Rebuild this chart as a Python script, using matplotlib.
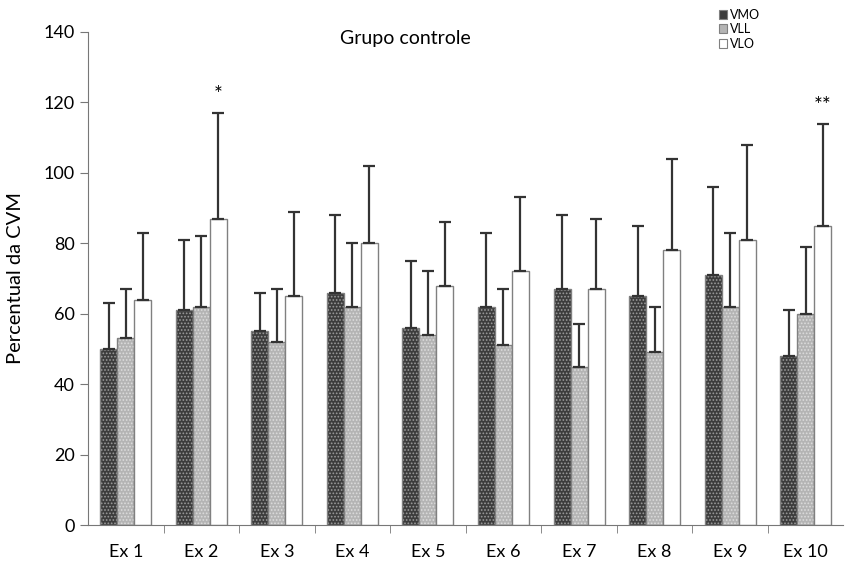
import numpy as np
import matplotlib.pyplot as plt
import matplotlib.patches as mpatches

plt.rcParams['font.family'] = ['Lato', 'DejaVu Sans']
plt.rcParams['hatch.linewidth'] = 0.8

# data
exercicios = ['Ex 1', 'Ex 2', 'Ex 3', 'Ex 4', 'Ex 5', 'Ex 6', 'Ex 7', 'Ex 8', 'Ex 9', 'Ex 10']
vmo = [50, 61, 55, 66, 56, 62, 67, 65, 71, 48]
vll = [53, 62, 52, 62, 54, 51, 45, 49, 62, 60]
vlo = [64, 87, 65, 80, 68, 72, 67, 78, 81, 85]
vmo_sd = [13, 20, 11, 22, 19, 21, 21, 20, 25, 13]
vll_sd = [14, 20, 15, 18, 18, 16, 12, 13, 21, 19]
vlo_sd = [19, 30, 24, 22, 18, 21, 20, 26, 27, 29]
marcas = {1: '*', 9: '**'}

fig = plt.figure(figsize=(8.46, 5.68), dpi=100)
ax = fig.add_axes([0.104, 0.0757, 0.893, 0.868])

x = np.arange(len(exercicios))
w = 0.225
series = [
    (vmo, vmo_sd, -w, '#3c3c3c', '#9a9a9a', '.....', 'VMO'),
    (vll, vll_sd, 0, '#b4b4b4', '#dcdcdc', '.....', 'VLL'),
    (vlo, vlo_sd, w, 'white', 'white', None, 'VLO'),
]
handles = []
for vals, sd, off, fc, hc, hatch, lab in series:
    ax.bar(x + off, vals, w, color=fc, edgecolor=hc, hatch=hatch, linewidth=0)
    ax.bar(x + off, vals, w, facecolor='none', edgecolor='#808080', linewidth=1.0)
    ax.errorbar(x + off, vals, yerr=[np.zeros(len(vals)), sd], fmt='none',
                ecolor='#333333', elinewidth=1.6, capsize=4, capthick=1.6)
    handles.append(mpatches.Patch(facecolor=fc, edgecolor='#808080', linewidth=0.8, label=lab))

for i, m in marcas.items():
    ax.text(x[i] + w, vlo[i] + vlo_sd[i] + 5, m, ha='center', va='center', fontsize=15)

ax.set_xlim(-0.5, 9.5)
ax.set_ylim(0, 140)
ax.set_yticks(range(0, 141, 20))
ax.set_xticks(x)
ax.set_xticklabels(exercicios)
ax.set_xticks(np.arange(0.5, 9.5, 1), minor=True)
ax.tick_params(axis='x', which='major', length=0, pad=14, labelsize=13)
ax.tick_params(axis='x', which='minor', length=6, direction='out', color='#777777')
ax.tick_params(axis='y', length=6, direction='out', color='#777777', labelsize=13)
for s in ['top', 'right']:
    ax.spines[s].set_visible(False)
for s in ['left', 'bottom']:
    ax.spines[s].set_color('#777777')
ax.set_ylabel('Percentual da CVM', fontsize=14.5, labelpad=14)
ax.text(0.42, 1.005, 'Grupo controle', transform=ax.transAxes, ha='center', va='top', fontsize=14)

ax.legend(handles=handles, loc='upper left', bbox_to_anchor=(0.82, 1.07), frameon=False, fontsize=9,
          handlelength=0.7, handleheight=0.7, handletextpad=0.2, labelspacing=0.2)

fig.savefig('out.png', dpi=100)
